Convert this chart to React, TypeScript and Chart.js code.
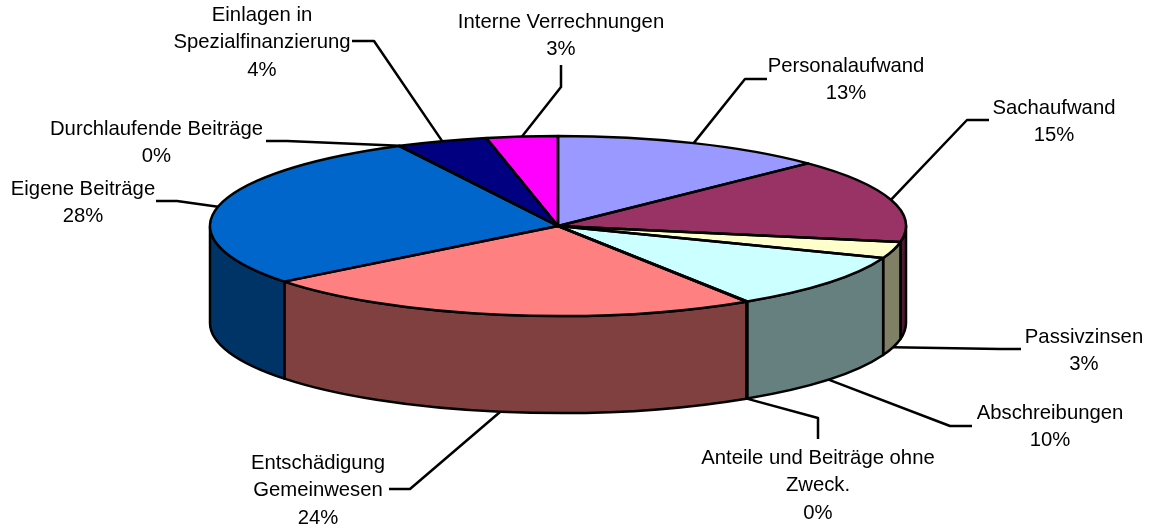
import React, { useEffect, useRef } from "react";
import { Chart, registerables } from "chart.js";

Chart.register(...registerables);

const categories = [
  "Personalaufwand",
  "Sachaufwand",
  "Passivzinsen",
  "Abschreibungen",
  "Anteile und Beiträge ohne\nZweck.",
  "Entschädigung\nGemeinwesen",
  "Eigene Beiträge",
  "Durchlaufende Beiträge",
  "Einlagen in\nSpezialfinanzierung",
  "Interne Verrechnungen",
];
const values = [12.75, 15.1, 2.95, 10.05, 0.05, 23.5, 28.05, 0.05, 4.2, 3.3];
const topColors = ["#9999FF", "#993366", "#FFFFCC", "#CCFFFF", "#FFCC99", "#FF8080", "#0066CC", "#FF9900", "#000080", "#FF00FF"];
const wallColors = ["#4D4D80", "#4D1A33", "#808066", "#668080", "#80664D", "#804040", "#003366", "#804D00", "#000040", "#800080"];

// Label layout: text centre x, first line y, elbow of leader, end of leader tail
const labelCenterX = [846, 1054, 1084, 1050, 818, 318, 83, 156.5, 262, 561];
const labelFirstY = [66, 108, 337, 413, 458, 463, 189, 129, 15, 22];
const elbowX = [745, 967, 1000, 950, 818, 410, 177, 287, 374, 561];
const elbowY = [79, 120, 349, 426, 418, 489, 201, 141, 41, 87];
const tailX = [767, 989, 1021, 972, 818, 389, 156, 266, 352, 561];
const tailY = [79, 120, 349, 426, 439, 489, 201, 141, 41, 65];

const RX = 348;
const RY = 90;
const DEPTH = 97;
const LINE = 2.5;
const LINE_HEIGHT = 27.5;
const FONT = '20.3px "Liberation Sans", Arial, sans-serif';

const pie3d = {
  id: "pie3d",
  beforeDatasetsDraw(chart: any) {
    const ctx = chart.ctx;
    const arcs = chart.getDatasetMeta(0).data;
    const { x: cx, y: cy } = arcs[0];
    ctx.save();
    ctx.lineWidth = LINE;
    ctx.strokeStyle = "#000";
    ctx.lineJoin = "round";
    arcs.forEach((arc: any, i: number) => {
      const ranges: [number, number][] = [];
      // visible outer wall: canvas angles 0..PI, also checked one turn later
      for (const shift of [0, 2 * Math.PI]) {
        const a = Math.max(arc.startAngle, shift);
        const b = Math.min(arc.endAngle, shift + Math.PI);
        if (b > a) ranges.push([a, b]);
      }
      for (const [a, b] of ranges) {
        ctx.beginPath();
        ctx.ellipse(cx, cy, RX, RY, 0, a, b);
        ctx.ellipse(cx, cy + DEPTH, RX, RY, 0, b, a, true);
        ctx.closePath();
        ctx.fillStyle = wallColors[i];
        ctx.fill();
        ctx.stroke();
      }
    });
    ctx.restore();
    ctx.save();
    ctx.translate(cx, cy);
    ctx.scale(1, RY / RX);
    ctx.translate(-cx, -cy);
  },
  afterDatasetsDraw(chart: any) {
    const ctx = chart.ctx;
    ctx.restore();
    const arcs = chart.getDatasetMeta(0).data;
    const { x: cx, y: cy } = arcs[0];
    ctx.save();
    ctx.lineWidth = LINE;
    ctx.strokeStyle = "#000";
    ctx.lineJoin = "round";
    arcs.forEach((arc: any) => {
      ctx.beginPath();
      ctx.moveTo(cx, cy);
      ctx.ellipse(cx, cy, RX, RY, 0, arc.startAngle, arc.endAngle);
      ctx.closePath();
      ctx.stroke();
    });

    // leaders and labels
    ctx.font = FONT;
    ctx.textAlign = "center";
    ctx.textBaseline = "middle";
    ctx.fillStyle = "#000";
    arcs.forEach((arc: any, i: number) => {
      const mid = (arc.startAngle + arc.endAngle) / 2;
      const px = cx + RX * Math.cos(mid);
      let py = cy + RY * Math.sin(mid);
      if (Math.sin(mid) > 0) py += DEPTH;
      ctx.beginPath();
      ctx.moveTo(tailX[i], tailY[i]);
      ctx.lineTo(elbowX[i], elbowY[i]);
      ctx.lineTo(px, py);
      ctx.stroke();
      const lines = [...categories[i].split("\n"), `${Math.round(values[i])}%`];
      lines.forEach((t, n) => ctx.fillText(t, labelCenterX[i], labelFirstY[i] + n * LINE_HEIGHT));
    });
    ctx.restore();
  },
};

export default function App() {
  const ref = useRef<HTMLCanvasElement>(null);
  useEffect(() => {
    const chart = new Chart(ref.current!, {
      type: "pie",
      data: {
        labels: categories,
        datasets: [
          {
            data: values,
            backgroundColor: topColors,
            borderWidth: 0,
            clip: false,
          } as any,
        ],
      },
      options: {
        responsive: false,
        animation: false,
        radius: RX,
        layout: { padding: { left: 0, top: 0, right: 41, bottom: 76 } },
        plugins: { legend: { display: false }, tooltip: { enabled: false } },
      } as any,
      plugins: [pie3d],
    });
    return () => chart.destroy();
  }, []);
  return (
    <div style={{ position: "fixed", left: 0, top: 0, width: 1157, height: 528, background: "#fff" }}>
      <canvas ref={ref} width={1157} height={528} style={{ display: "block" }} />
    </div>
  );
}
